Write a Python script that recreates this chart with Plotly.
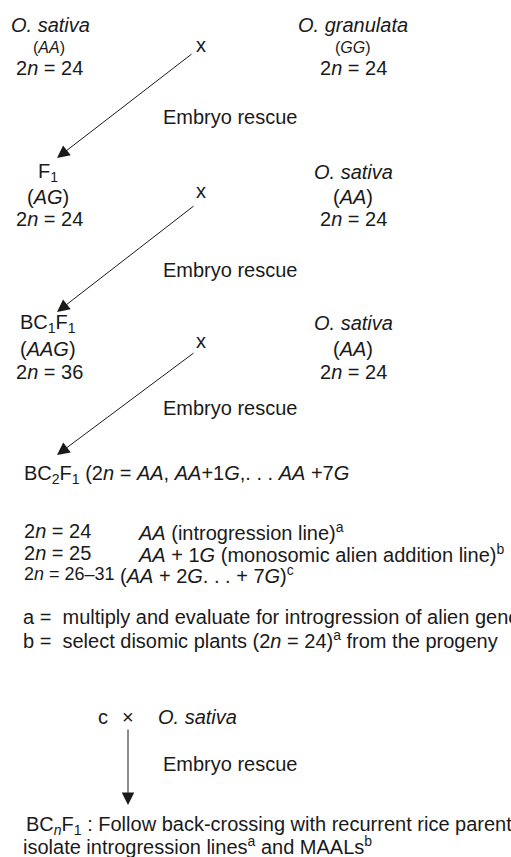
import plotly.graph_objects as go

# ---- content (text of the crossing scheme) ----
left_labels = ["<i>O. sativa</i>", "F<sub>1</sub>", "BC<sub>1</sub>F<sub>1</sub>"]
left_genomes = ["(<i>AA</i>)", "(<i>AG</i>)", "(<i>AAG</i>)"]
left_ploidy = ["2<i>n</i> = 24", "2<i>n</i> = 24", "2<i>n</i> = 36"]
right_labels = ["<i>O. granulata</i>", "<i>O. sativa</i>", "<i>O. sativa</i>"]
right_genomes = ["(<i>GG</i>)", "(<i>AA</i>)", "(<i>AA</i>)"]
right_ploidy = ["2<i>n</i> = 24", "2<i>n</i> = 24", "2<i>n</i> = 24"]
cross_mark = "x"
rescue_text = "Embryo rescue"
bc2_line = "BC<sub>2</sub>F<sub>1</sub> (2<i>n</i> = <i>AA</i>, <i>AA</i>+1<i>G</i>,. . . <i>AA</i> +7<i>G</i>"
class_counts = ["2<i>n</i> = 24", "2<i>n</i> = 25", "2<i>n</i> = 26–31"]
class_desc = ["<i>AA</i> (introgression line)<sup>a</sup>",
              "<i>AA</i> + 1<i>G</i> (monosomic alien addition line)<sup>b</sup>",
              "(<i>AA</i> + 2<i>G</i>. . . + 7<i>G</i>)<sup>c</sup>"]
notes = ["a =  multiply and evaluate for introgression of alien genes",
         "b =  select disomic plants (2<i>n</i> = 24)<sup>a</sup> from the progeny"]
final_cross = ["c", "×", "<i>O. sativa</i>"]
final_lines = ["BC<sub><i>n</i></sub>F<sub>1</sub> : Follow back-crossing with recurrent rice parent and",
               "isolate introgression lines<sup>a</sup> and MAALs<sup>b</sup>"]

W, H = 511, 857
FONT = "Liberation Sans, Arial, sans-serif"
FS = 20
COL = "#1a1a1a"

fig = go.Figure()
fig.add_trace(go.Scatter(x=[0, W], y=[0, H], mode="markers",
                         marker=dict(opacity=0), hoverinfo="skip", showlegend=False))

ann = []

def txt(x, y, t, anchor="left", size=FS):
    ann.append(dict(x=x, y=y, xref="x", yref="y", text=t, showarrow=False,
                    xanchor=anchor, yanchor="middle", borderpad=0,
                    font=dict(family=FONT, size=size, color=COL)))

def arrow(x0, y0, x1, y1):
    ann.append(dict(x=x1, y=y1, ax=x0, ay=y0, xref="x", yref="y", axref="x", ayref="y",
                    text="", showarrow=True, arrowhead=2, arrowsize=2.5, arrowwidth=1,
                    arrowcolor=COL, standoff=0, startstandoff=0))

row_y = [(25, 47, 68), (172, 197, 219), (323, 349, 372)]
cross_y = [45, 191, 341]
rescue_y = [117, 270, 408]
arrow_pts = [((193, 53), (57, 158)), ((195, 205), (57, 312)), ((195, 352), (57, 455))]

for i in range(3):
    y1, y2, y3 = row_y[i]
    if i == 0:
        txt(10, y1, left_labels[i])
        txt(49, y2, left_genomes[i], "center", 16)
        txt(15, y3, left_ploidy[i])
        txt(353, y2, right_genomes[i], "center", 16)
    else:
        txt(48, y1, left_labels[i], "center")
        txt(48, y2, left_genomes[i], "center")
        txt(49, y3, left_ploidy[i], "center")
        txt(353, y2, right_genomes[i], "center")
    txt(353, y1, right_labels[i], "center")
    txt(353, y3, right_ploidy[i], "center")
    txt(201, cross_y[i], cross_mark, "center")
    txt(162, rescue_y[i], rescue_text)
    (ax0, ay0), (ax1, ay1) = arrow_pts[i]
    arrow(ax0, ay0, ax1, ay1)

txt(23, 474, bc2_line)
for yy, c, d, dx, fs in zip([531, 553, 574], class_counts, class_desc,
                            [137, 137, 119], [20, 20, 18]):
    txt(23, yy, c, size=fs)
    txt(dx, yy, d)

txt(22, 617, notes[0])
txt(22, 639, notes[1])

txt(97, 717, final_cross[0])
txt(128, 717, final_cross[1], "center")
txt(157, 717, final_cross[2])
arrow(128, 728, 128, 805)
txt(162, 764, rescue_text)

txt(25, 825, final_lines[0])
txt(22, 845, final_lines[1])

fig.update_layout(
    width=W, height=H, margin=dict(l=0, r=0, t=0, b=0),
    paper_bgcolor="white", plot_bgcolor="white",
    xaxis=dict(range=[0, W], visible=False, fixedrange=True),
    yaxis=dict(range=[H, 0], visible=False, fixedrange=True),
    annotations=ann, showlegend=False,
)
fig.write_html("out.html", config={"displayModeBar": False},
               post_script="document.body.style.margin='0';document.body.style.overflow='hidden';")
